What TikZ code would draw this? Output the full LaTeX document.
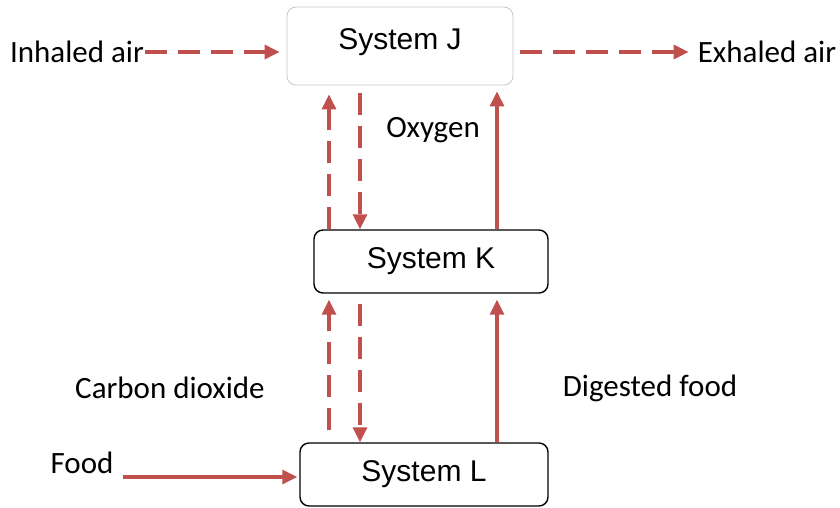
\documentclass[tikz,border=0pt]{standalone}
\usepackage{fontspec}
\setmainfont{Carlito}
\newfontfamily\boxfont{Liberation Sans}
\usetikzlibrary{arrows.meta,positioning,calc}
\definecolor{flowred}{HTML}{C0504D}

\begin{document}
\begin{tikzpicture}[x=1pt,y=-1pt,
  sysbox/.style={draw,rounded corners=9pt,line width=1.4pt,
    font=\boxfont\fontsize{30}{34}\selectfont},
  lbl/.style={inner sep=0pt,font=\fontsize{31}{34}\selectfont},
  flow/.style={flowred,line width=3.2pt,-{Triangle[length=15pt,width=14pt]}},
  dflow/.style={flow,dash pattern=on 22pt off 11pt}]
  \useasboundingbox (0,0) rectangle (840,507);
  % the three systems
  \node[sysbox,draw=gray!45,line width=0.8pt,minimum width=226pt,minimum height=78pt,
        text depth=14pt] (J) at (400,46) {System J};
  \node[sysbox,minimum width=234pt,minimum height=63pt] (K) at (431,261.5) {System K};
  \node[sysbox,minimum width=248pt,minimum height=63pt] (L) at (424,474.5) {System L};
  % labels
  \node[lbl] (inhaled) at (77,52) {Inhaled air};
  \node[lbl] (exhaled) at (767,52) {Exhaled air};
  \node[lbl] (oxygen) at (433,130) {Oxygen};
  \node[lbl] (co2) at (170,388) {Carbon dioxide};
  \node[lbl] (digested) at (650,388) {Digested food};
  \node[lbl] (food) at (82,463) {Food};
  % columns of the vertical flows
  \coordinate (colA) at (329,0);
  \coordinate (colB) at (360,0);
  \coordinate (colC) at (497,0);
  \coordinate (foodtail) at (123,477);
  % air in and out
  \draw[dflow,shorten >=7pt] ([xshift=1pt]inhaled.east) -- (inhaled.east -| J.west);
  \draw[dflow,shorten <=7pt,shorten >=9pt] (J.east |- exhaled.west) -- (exhaled.west);
  % between J and K
  \draw[dflow] (K.north -| colA) -- ([yshift=-9pt]J.south -| colA);
  \draw[dflow] ([yshift=-8pt]J.south -| colB) -- (K.north -| colB);
  \draw[flow] (K.north -| colC) -- ([yshift=-6pt]J.south -| colC);
  % between K and L
  \draw[dflow] ([yshift=12pt]L.north -| colA) -- ([yshift=-6pt]K.south -| colA);
  \draw[dflow] ([yshift=-10pt]K.south -| colB) -- (L.north -| colB);
  \draw[flow] (L.north -| colC) -- ([yshift=-6pt]K.south -| colC);
  % food in
  \draw[flow,shorten >=2pt] (foodtail) -- (foodtail -| L.west);
\end{tikzpicture}
\end{document}
